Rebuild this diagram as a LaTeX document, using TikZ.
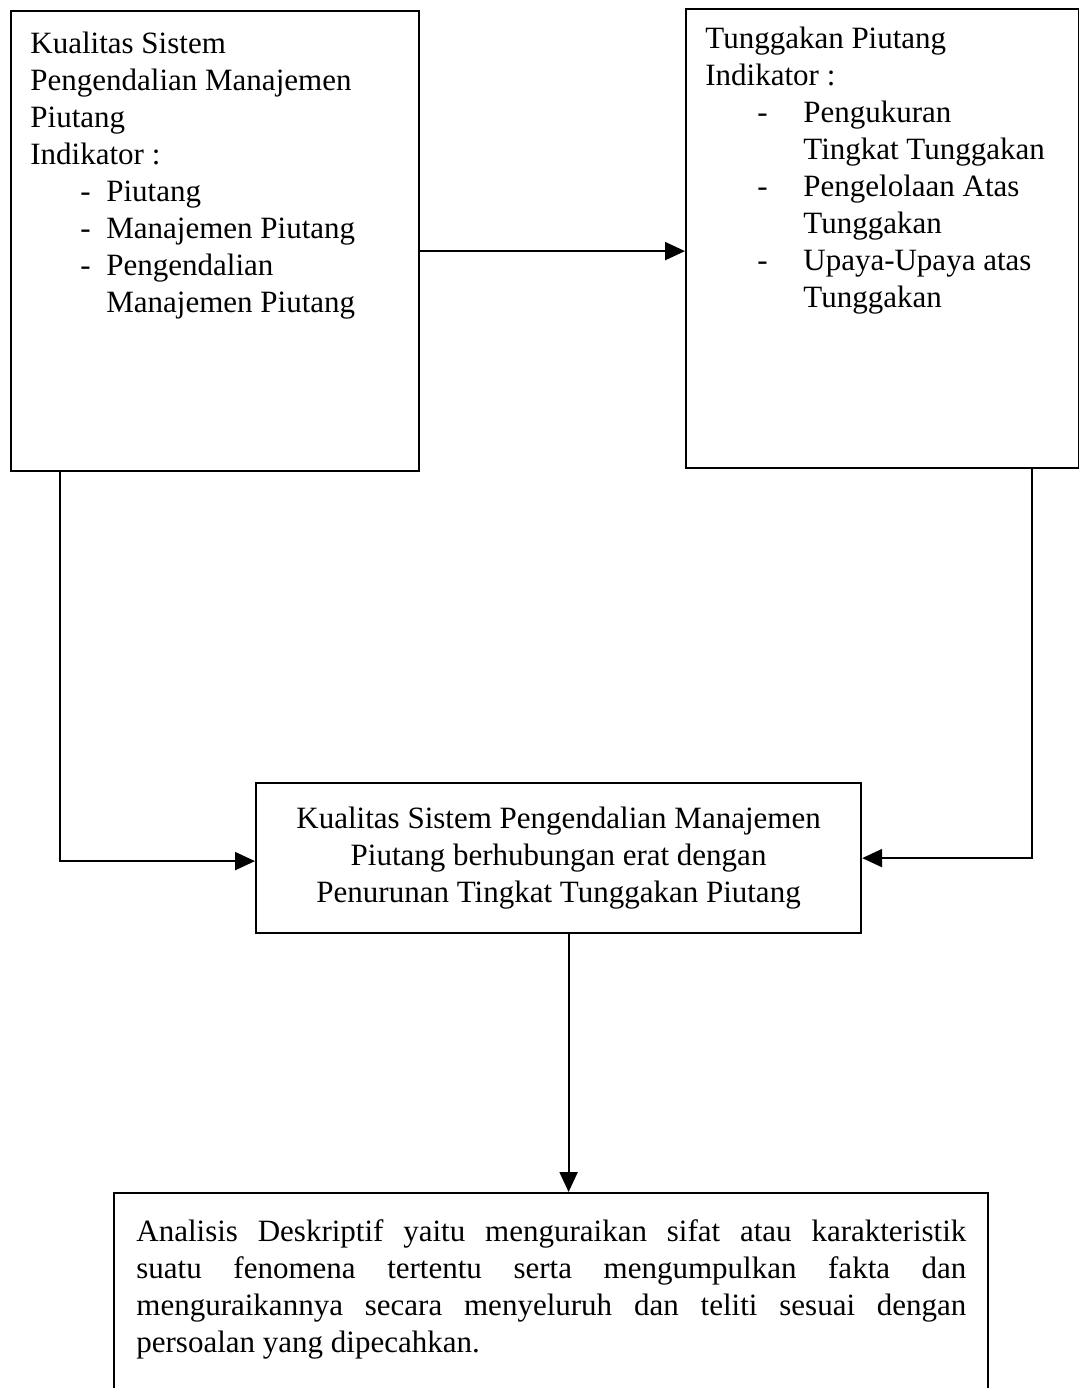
\documentclass[tikz,border=0pt]{standalone}
\usepackage{fontspec}
\setmainfont{Liberation Serif}
\usetikzlibrary{arrows.meta,positioning}
\tikzset{
  box/.style={draw, line width=1.1pt, inner sep=0pt, anchor=north west},
  arr/.style={-{Triangle[length=10pt,width=9pt]}, line width=1.1pt},
  txt/.style={inner sep=0pt, anchor=north west, font=\fontsize{15.5}{18.5}\selectfont},
  plainspace/.style={execute at begin node={\spaceskip=0pt\xspaceskip=0pt}},
}
\newcommand{\itemA}[1]{\hspace*{25pt}\makebox[13pt][l]{-}#1}
\newcommand{\itemB}[1]{\hspace*{26pt}\makebox[23pt][l]{-}#1}
\begin{document}
\begin{tikzpicture}[x=0.5pt, y=-0.5pt]
  \useasboundingbox (0,0) rectangle (1079,1388);

  % boxes
  \node[box, minimum width=204pt, minimum height=230pt] (kualitas) at (10,10) {};
  \node[box, minimum width=196.5pt, minimum height=229.5pt] (tunggakan) at (685,8) {};
  \node[box, minimum width=302.5pt, minimum height=75pt, align=center,
        font=\fontsize{15.5}{18.5}\selectfont] (hubungan) at (255,782)
    {Kualitas Sistem Pengendalian Manajemen\\
     Piutang berhubungan erat dengan\\
     Penurunan Tingkat Tunggakan Piutang};
  \node[box, minimum width=437pt, minimum height=104pt] (analisis) at (113,1192) {};

  % texts
  \node[txt, plainspace, text width=195pt, align=left] (kualitas text) at (30,32)
    {Kualitas Sistem\\
     Pengendalian Manajemen\\
     Piutang\\
     Indikator :\\
     \itemA{Piutang}\\
     \itemA{Manajemen Piutang}\\
     \itemA{Pengendalian}\\
     \hspace*{38pt}Manajemen Piutang};
  \node[txt, plainspace, text width=186pt, align=left] (tunggakan text) at (705,27)
    {Tunggakan Piutang\\
     Indikator :\\
     \itemB{Pengukuran}\\
     \hspace*{49pt}Tingkat Tunggakan\\
     \itemB{Pengelolaan Atas}\\
     \hspace*{49pt}Tunggakan\\
     \itemB{Upaya-Upaya atas}\\
     \hspace*{49pt}Tunggakan};
  \node[txt, text width=415pt, align=justify] (analisis text) at (136,1219)
    {Analisis Deskriptif yaitu menguraikan sifat atau karakteristik\linebreak
     suatu fenomena tertentu serta mengumpulkan fakta dan\linebreak
     menguraikannya secara menyeluruh dan teliti sesuai dengan\linebreak
     persoalan yang dipecahkan.};

  % connectors
  \draw[arr] ([yshift=-5pt]kualitas.east) -- ([yshift=-5pt]kualitas.east -| tunggakan.west);
  \draw[arr] ([xshift=25pt]kualitas.south west) |- ([yshift=-1.5pt]hubungan.west);
  \draw[arr] ([xshift=-24pt]tunggakan.south east) |- (hubungan.east);
  \draw[arr] ([xshift=5pt]hubungan.south) -- ([xshift=5pt]hubungan.south |- analisis.north);
\end{tikzpicture}
\end{document}
